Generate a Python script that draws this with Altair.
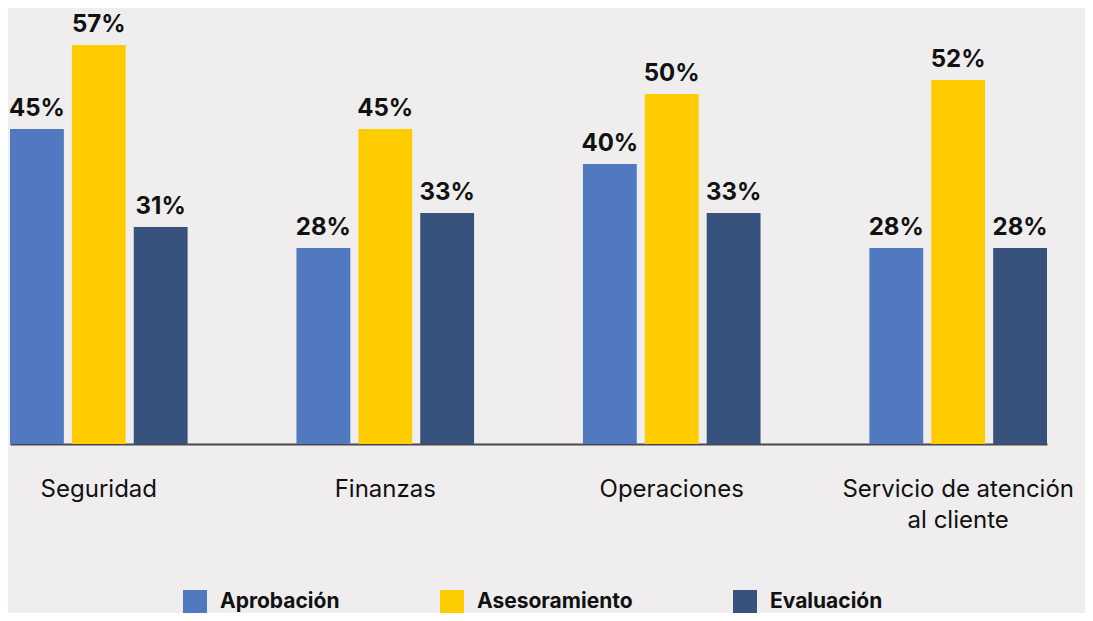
import altair as alt
import pandas as pd

categories = ["Seguridad", "Finanzas", "Operaciones", "Servicio de atención al cliente"]
series = ["Aprobación", "Asesoramiento", "Evaluación"]
aprobacion = [45, 28, 40, 28]
asesoramiento = [57, 45, 50, 52]
evaluacion = [31, 33, 33, 28]
colors = ["#5079BF", "#FFCC00", "#37527C"]

rows = []
for i, c in enumerate(categories):
    for s, vals in zip(series, [aprobacion, asesoramiento, evaluacion]):
        rows.append({"cat": c, "serie": s, "val": vals[i], "lbl": f"{vals[i]}%"})
df = pd.DataFrame(rows)

FONT = "Inter"

x = alt.X("cat:N", sort=categories, title=None,
          scale=alt.Scale(paddingInner=0.38, paddingOuter=0),
          axis=alt.Axis(labelAngle=0, labelFontSize=24, labelFont=FONT, labelColor="#111111",
                        labelPadding=33, ticks=False, domainColor="#4a4a4a", domainWidth=2,
                        labelLineHeight=31, labelLimit=400,
                        labelExpr="datum.label == 'Servicio de atención al cliente' ? ['Servicio de atención', 'al cliente'] : datum.label"))
xo = alt.XOffset("serie:N", sort=series, scale=alt.Scale(paddingInner=0.13, paddingOuter=0))
y = alt.Y("val:Q", scale=alt.Scale(domain=[0, 60]), axis=None)
color = alt.Color("serie:N", sort=series, scale=alt.Scale(domain=series, range=colors),
                  legend=alt.Legend(title=None, orient="none", legendX=173, legendY=566,
                                    direction="horizontal", symbolType="square", symbolSize=576,
                                    symbolStrokeWidth=0, symbolOpacity=1, padding=0,
                                    labelFont=FONT, labelFontSize=21, labelFontWeight="bold",
                                    labelColor="#111111", labelOffset=13, columnPadding=100,
                                    gridAlign="none", labelLimit=300))

bars = alt.Chart(df).mark_bar().encode(x=x, xOffset=xo, y=y, color=color)
text = alt.Chart(df).mark_text(font=FONT, fontSize=24, fontWeight="bold", color="#111111",
                               baseline="middle", dy=-20).encode(x=x, xOffset=xo, y=y, text="lbl:N")

chart = alt.layer(bars, text).properties(
    width=1037, height=420,
    autosize=alt.AutoSizeParams(type="none"),
    padding={"left": 2, "top": 16, "right": 38, "bottom": 169},
    background="#EFEDEE",
).configure_view(stroke=None)

chart.save("out.html", embed_options={"renderer": "svg", "actions": False})
